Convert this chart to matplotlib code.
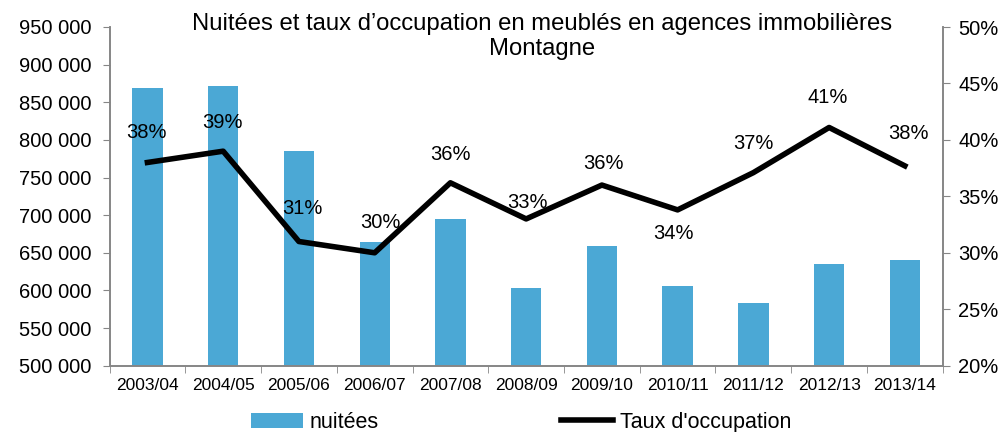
import matplotlib
matplotlib.use("Agg")
import matplotlib.pyplot as plt
from matplotlib.ticker import FuncFormatter, MultipleLocator, FixedLocator

plt.rcParams['font.family'] = ['Liberation Sans', 'DejaVu Sans']

saisons = ["2003/04", "2004/05", "2005/06", "2006/07", "2007/08", "2008/09",
           "2009/10", "2010/11", "2011/12", "2012/13", "2013/14"]
nuitees = [869000, 872000, 785000, 665000, 695000, 603000,
           659000, 606000, 583000, 635000, 641000]
taux = [38.0, 39.0, 31.0, 30.0, 36.2, 33.0, 36.0, 33.8, 37.1, 41.1, 37.7]
# decalage des etiquettes (pixels)
label_offsets = [(-1, 30), (-1, 29), (3, 33), (6, 30), (0, 28), (1, 16),
                 (2, 22), (-4, -24), (0, 29), (-1, 30), (4, 32)]

bar_color = "#4BA8D5"
gray = "#868686"

fig = plt.figure(figsize=(10.06, 4.32), dpi=100)
ax = fig.add_axes([0.1089, 0.1535, 0.8282, 0.7840])
ax2 = ax.twinx()

x = list(range(len(saisons)))
ax.bar(x, nuitees, width=0.40, color=bar_color, zorder=2, label="nuitées")
ax.set_ylim(500000, 950000)
ax.set_xlim(-0.5, len(saisons) - 0.5)
ax.yaxis.set_major_locator(MultipleLocator(50000))
ax.yaxis.set_major_formatter(FuncFormatter(lambda v, p: f"{int(v):,}".replace(",", " ")))

ax2.plot(x, taux, color="black", lw=4, zorder=4, label="Taux d'occupation")
ax2.set_ylim(20, 50)
ax2.yaxis.set_major_locator(MultipleLocator(5))
ax2.yaxis.set_major_formatter(FuncFormatter(lambda v, p: f"{int(round(v))}%"))

for xi, t, off in zip(x, taux, label_offsets):
    ax2.annotate(f"{round(t):.0f}%", (xi, t), xytext=off, textcoords="offset pixels",
                 ha="center", va="center", fontsize=14.5, zorder=3)

ax.set_xticks(x)
ax.set_xticklabels(saisons, fontsize=12.5)
ax.tick_params(axis="x", which="major", length=0, pad=9)
ax.xaxis.set_minor_locator(FixedLocator([i - 0.5 for i in range(len(saisons) + 1)]))
ax.tick_params(axis="x", which="minor", length=5, color=gray, direction="out")
ax.tick_params(axis="y", labelsize=14.5, length=5, color=gray, pad=8)
ax2.tick_params(axis="y", labelsize=14.5, length=5, color=gray, pad=6)

for a in (ax, ax2):
    a.spines["top"].set_visible(False)
    for s in ("left", "right", "bottom"):
        a.spines[s].set_color(gray)
        a.spines[s].set_linewidth(1.2)

fig.text(0.539, 0.916, "Nuitées et taux d’occupation en meublés en agences immobilières\nMontagne",
         ha="center", va="center", fontsize=17.2, linespacing=1.17)

h1, l1 = ax.get_legend_handles_labels()
h2, l2 = ax2.get_legend_handles_labels()
fig.legend(h1 + h2, l1 + l2, loc="center", bbox_to_anchor=(0.518, 0.022), ncol=2,
           frameon=False, fontsize=15.5, handlelength=2.4, handletextpad=0.3,
           columnspacing=8.5)

fig.savefig("out.png", dpi=100)
